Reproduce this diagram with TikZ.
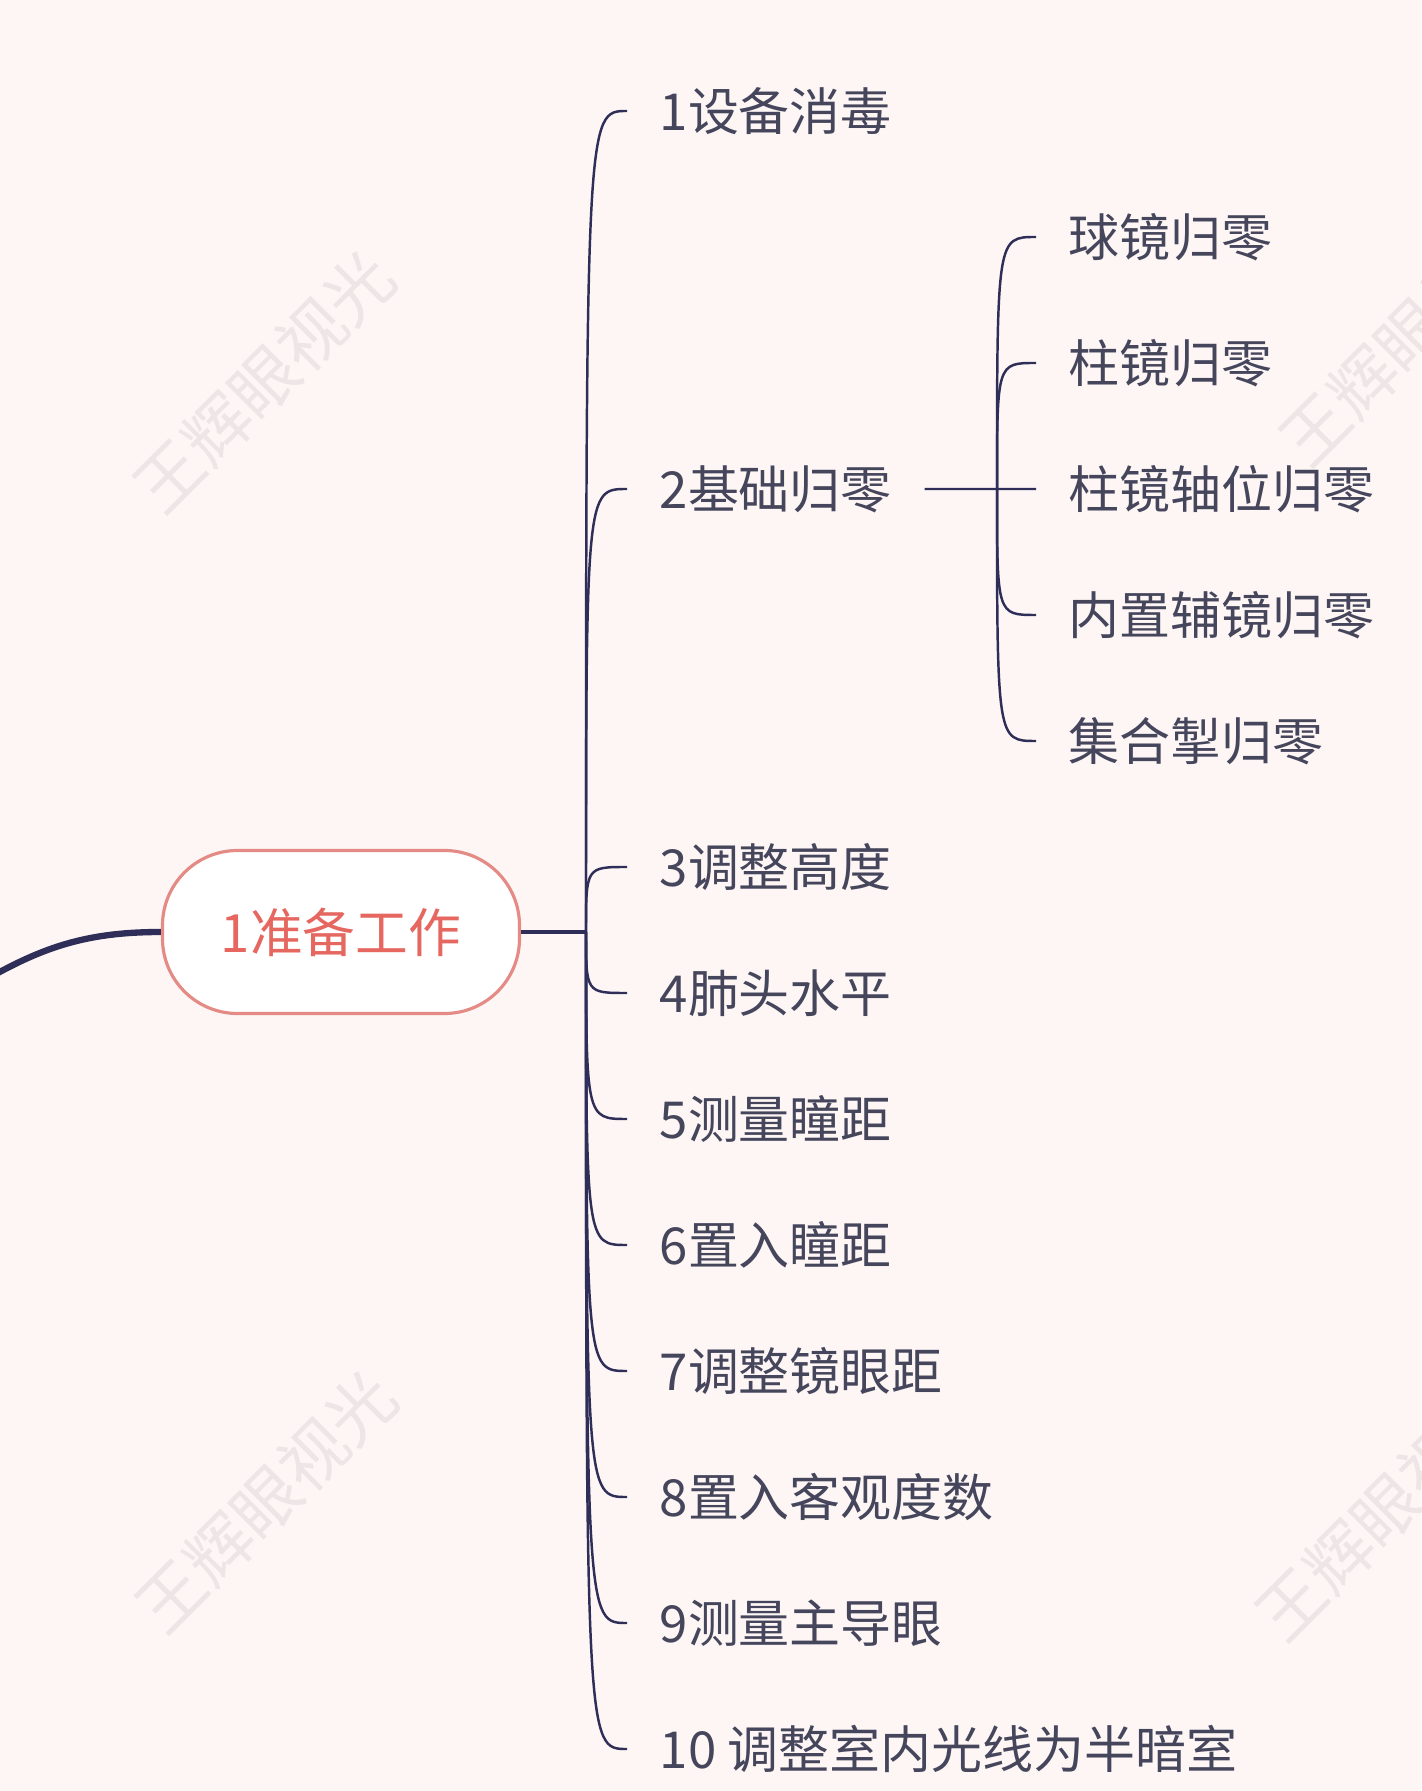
\documentclass[tikz,border=0pt]{standalone}
\usepackage{fontspec}
\setmainfont{Noto Sans CJK SC}
\usetikzlibrary{positioning, calc}
\definecolor{bgpink}{HTML}{FDF6F4}
\definecolor{inkline}{HTML}{2F2E58}
\definecolor{inktext}{HTML}{45455C}
\definecolor{rootred}{HTML}{E5675F}
\definecolor{rootedge}{HTML}{E48B86}
\definecolor{wmgray}{HTML}{EEE6E6}
\tikzset{
  rootnode/.style={rectangle,rounded corners=0.75cm,fill=white,draw=rootedge,line width=0.9pt,
    minimum width=3.57cm,minimum height=1.63cm,text=rootred,font=\fontsize{15}{18}\selectfont},
  itemnode/.style={anchor=west,inner xsep=0.32cm,inner ysep=0pt,text=inktext,
    font=\fontsize{14.5}{17}\selectfont},
  branch/.style={draw=inkline,line width=0.7pt},
  wmark/.style={text=wmgray,rotate=45,font=\fontsize{19}{22}\selectfont}
}

\begin{document}
\begin{tikzpicture}

  \fill[bgpink] (0,0) rectangle (14.21,-17.91);
  \useasboundingbox (0,0) rectangle (14.21,-17.91);

  % Watermarks
  \foreach \x/\y [count=\i] in {2.64/-3.82, 2.66/-15.02, 14.10/-3.35, 13.86/-15.10}{
    \node[wmark] (wm\i) at (\x,\y) {王辉眼视光};
  }

  % Root topic
  \node[rootnode] (prep) at (3.41,-9.32) {1准备工作};
  \coordinate (hub) at (5.86,-9.32);
  \coordinate (parent) at (-0.45,-9.98);
  \draw[inkline,line width=1.8pt] (prep.west) .. controls (0.75,-9.32) and (0.3,-9.52) .. (parent);
  \draw[branch,line width=1.2pt] (prep) -- (hub);

  % Steps
  \foreach \k/\txt in {
    0/1设备消毒,
    3/2基础归零,
    6/3调整高度,
    7/4肺头水平,
    8/5测量瞳距,
    9/6置入瞳距,
    10/7调整镜眼距,
    11/8置入客观度数,
    12/9测量主导眼,
    13/{10 调整室内光线为半暗室}
  }{
    \pgfmathsetmacro{\yy}{-1.11-1.26*\k}
    \node[itemnode] (s\k) at (6.27,\yy) {\txt};
    \draw[branch] (hub) .. controls (hub |- s\k.west) and (hub |- s\k.west) .. (s\k.west);
  }

  % Zero settings
  \coordinate (subhub) at (9.97,-4.89);
  \draw[branch] (s3.east) -- (subhub);
  \foreach \k/\txt in {
    1/球镜归零,
    2/柱镜归零,
    3/柱镜轴位归零,
    4/内置辅镜归零,
    5/集合掣归零
  }{
    \pgfmathsetmacro{\yy}{-1.11-1.26*\k}
    \node[itemnode] (z\k) at (10.36,\yy) {\txt};
    \draw[branch] (subhub) .. controls (subhub |- z\k.west) and (subhub |- z\k.west) .. (z\k.west);
  }

\end{tikzpicture}
\end{document}
